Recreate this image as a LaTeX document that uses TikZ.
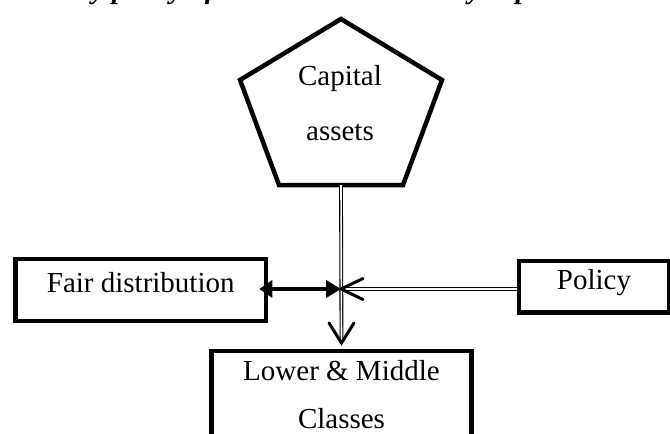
\documentclass[tikz,border=0pt]{standalone}
\usepackage{fontspec}
\setmainfont{Liberation Serif}
\usetikzlibrary{arrows.meta,calc}

\tikzset{
  body/.style={font=\fontsize{29}{48}\selectfont},
  box/.style={draw, line width=4.5pt, inner sep=0pt, body, align=center},
  dline/.style={draw, double, line width=1.1pt, double distance=1.6pt},
  barb/.style={line width=3pt, line cap=round, line join=miter},
  thickarrow/.style={line width=4.5pt, {Triangle[length=13pt,width=17pt]}-{Triangle[length=15pt,width=17pt]}},
}

\begin{document}
\begin{tikzpicture}[x=1pt, y=-1pt]
\useasboundingbox (0,0) rectangle (670,434);

% caption line, cut by the top edge
\node[anchor=base west, inner sep=0pt, font=\fontsize{29}{34}\selectfont\bfseries\itshape]
  (title) at (-8,-2) {Economy policy of wealth distribution by capital};

% pentagon with its label
\coordinate (pt) at (341,19);
\coordinate (pr) at (442,80);
\coordinate (pbr) at (403,185);
\coordinate (pbl) at (279,185);
\coordinate (pl) at (240,80);
\coordinate (pb) at (341,185);
\draw[line width=4.5pt, line join=miter] (pt) -- (pr) -- (pbr) -- (pbl) -- (pl) -- cycle;
\node[align=center, anchor=base, inner sep=0pt, font=\fontsize{29}{55}\selectfont]
  (cap) at (340,140) {Capital\\assets};

% boxes
\node[box, minimum width=250.5pt, minimum height=62pt, text height=20pt, text depth=16pt]
  (fair) at (140.75,290) {Fair distribution};
\node[box, minimum width=150pt, minimum height=51.5pt, text height=20pt, text depth=15.5pt]
  (pol) at (594,286.75) {Policy};
\node[box, anchor=north, minimum width=260pt, text height=77.5pt, text depth=40pt]
  (low) at (341.5,348.5) {Lower \& Middle\\Classes};

% meeting point of the three flows
\coordinate (x) at (341,289);
\coordinate (tip) at ($(low.north)+(0,-5.5)$);

% capital assets down to the classes
\path[dline] (pb) -- (tip);
\draw[barb] ($(tip)+(-12.5,-20)$) -- (tip) -- ($(tip)+(12.5,-20)$);

% policy into the meeting point
\path[dline] (x -| pol.west) -- (x);
\draw[barb] ($(x)+(22,-10.5)$) -- (x) -- ($(x)+(22,10.5)$);

% two-way link with fair distribution
\draw[thickarrow] ($(x -| fair.east)+(-9,0)$) -- (x);
\end{tikzpicture}
\end{document}
